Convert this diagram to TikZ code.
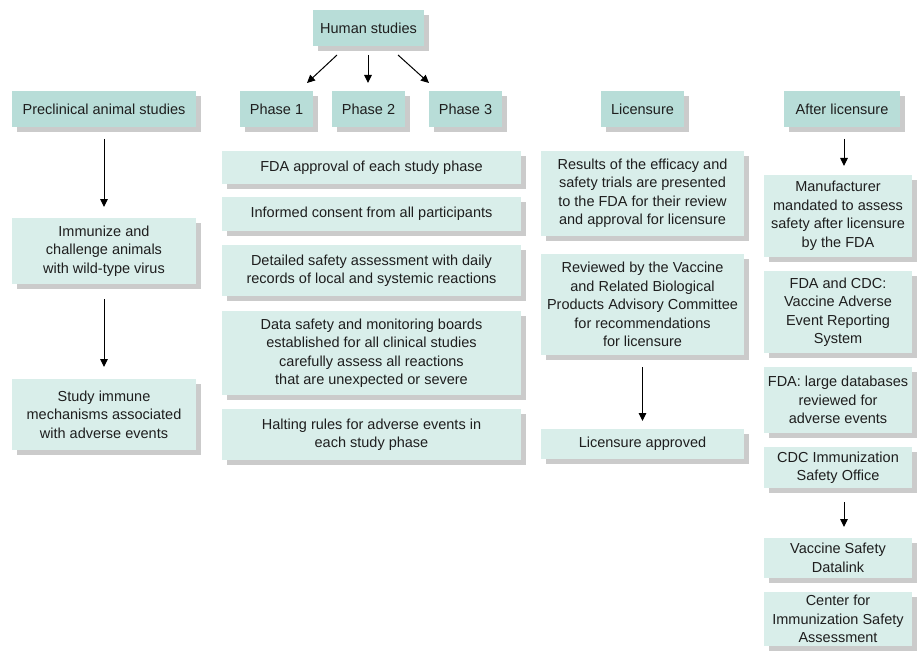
\documentclass[tikz,border=0pt]{standalone}
\usepackage{fontspec}
\setmainfont{Liberation Sans}
\usetikzlibrary{arrows.meta,shadows}
\definecolor{hdrc}{HTML}{B8DDD8}
\definecolor{boxc}{HTML}{D9EEEA}
\definecolor{shadc}{HTML}{CBCBCB}
\definecolor{txtc}{HTML}{1E1E1E}
\tikzset{
  base/.style={inner sep=0pt, outer sep=0pt, align=center, text=txtc,
    font=\fontsize{14.5}{18.5}\selectfont,
    drop shadow={shadow xshift=5pt, shadow yshift=-5pt, fill=shadc, opacity=1}},
  hdr/.style={base, fill=hdrc},
  cbox/.style={base, fill=boxc},
  arr/.style={-{Triangle[length=8pt,width=7.5pt]}, line width=1pt, draw=black}
}
\newcommand\mybox[7]{%
  \node[#1, minimum width={(#5-#3)*1pt}, minimum height={(#6-#4)*1pt}]
    (#2) at ({(#3+#5)/2},{-(#4+#6)/2}) {#7};}
\begin{document}
\begin{tikzpicture}[x=1pt,y=1pt]
\useasboundingbox (0,0) rectangle (917,-655);
% headers
\mybox{hdr}{hum}{313}{10}{424}{46}{Human studies}
\mybox{hdr}{pre}{12}{91}{196}{127}{Preclinical animal studies}
\mybox{hdr}{p1}{240}{91}{313}{127}{Phase 1}
\mybox{hdr}{p2}{332}{91}{405}{127}{Phase 2}
\mybox{hdr}{p3}{429}{91}{502}{127}{Phase 3}
\mybox{hdr}{lic}{601}{91}{684}{127}{Licensure}
\mybox{hdr}{aft}{784}{91}{900}{127}{After licensure}
% preclinical column
\mybox{cbox}{imm}{12}{218}{196}{284}{Immunize and\\challenge animals\\with wild-type virus}
\mybox{cbox}{stu}{12}{379}{196}{450}{Study immune\\mechanisms associated\\with adverse events}
% human studies column
\mybox{cbox}{fda}{222}{151}{521}{184}{FDA approval of each study phase}
\mybox{cbox}{inf}{222}{197}{521}{231}{Informed consent from all participants}
\mybox{cbox}{det}{222}{245}{521}{296}{Detailed safety assessment with daily\\records of local and systemic reactions}
\mybox{cbox}{dsm}{222}{311}{521}{395}{Data safety and monitoring boards\\established for all clinical studies\\carefully assess all reactions\\that are unexpected or severe}
\mybox{cbox}{hal}{222}{409}{521}{460}{Halting rules for adverse events in\\each study phase}
% licensure column
\mybox{cbox}{res}{541}{151}{744}{236}{Results of the efficacy and\\safety trials are presented\\to the FDA for their review\\and approval for licensure}
\mybox{cbox}{rev}{541}{254}{744}{355}{Reviewed by the Vaccine\\and Related Biological\\Products Advisory Committee\\for recommendations\\for licensure}
\mybox{cbox}{app}{541}{429}{744}{459}{Licensure approved}
% after licensure column
\mybox{cbox}{man}{764}{175}{912}{257}{Manufacturer\\mandated to assess\\safety after licensure\\by the FDA}
\mybox{cbox}{vae}{764}{271}{912}{353}{FDA and CDC:\\Vaccine Adverse\\Event Reporting\\System}
\mybox{cbox}{lar}{764}{367}{912}{433}{FDA: large databases\\reviewed for\\adverse events}
\mybox{cbox}{cdc}{764}{447}{912}{488}{CDC Immunization\\Safety Office}
\mybox{cbox}{vsd}{764}{538}{912}{578}{Vaccine Safety\\Datalink}
\mybox{cbox}{cen}{764}{592}{912}{646}{Center for\\Immunization Safety\\Assessment}
% arrows
\draw[arr] ([xshift=-31.5pt,yshift=-9pt]hum.south) -- ([xshift=30.5pt,yshift=8pt]p1.north);
\draw[arr] ([xshift=-0.5pt,yshift=-9pt]hum.south) -- ([xshift=-0.5pt,yshift=8pt]p2.north);
\draw[arr] ([xshift=29.5pt,yshift=-9pt]hum.south) -- ([xshift=-36.5pt,yshift=8pt]p3.north);
\draw[arr] ([yshift=-12pt]pre.south) -- ([yshift=11pt]imm.north);
\draw[arr] ([yshift=-15pt]imm.south) -- ([yshift=12pt]stu.north);
\draw[arr] ([yshift=-12pt]rev.south) -- ([yshift=8pt]app.north);
\draw[arr] ([xshift=2pt,yshift=-12pt]aft.south) -- ([xshift=6pt,yshift=9pt]man.north);
\draw[arr] ([xshift=6pt,yshift=-14pt]cdc.south) -- ([xshift=6pt,yshift=11pt]vsd.north);
\end{tikzpicture}
\end{document}
